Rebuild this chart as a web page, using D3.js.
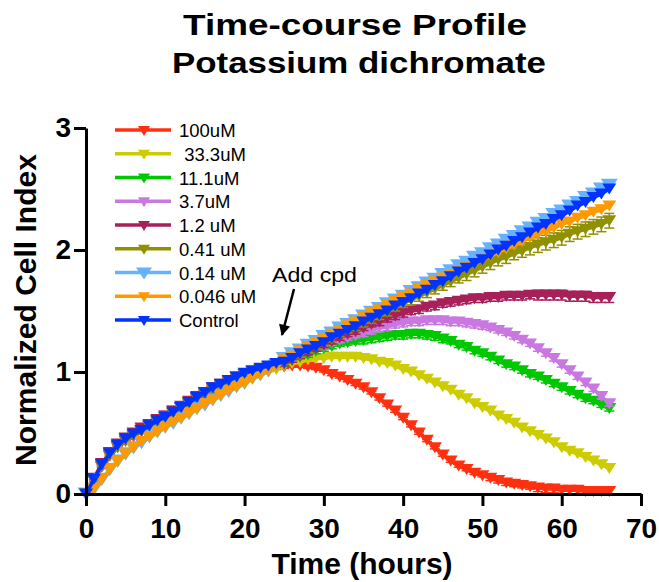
<!DOCTYPE html>
<html>
<head>
<meta charset="utf-8">
<script src="https://cdn.jsdelivr.net/npm/d3@7"></script>
<style>
  body { margin: 0; background: #fff; }
  svg { display: block; font-family: "Liberation Sans", Arial, Helvetica, sans-serif; }
</style>
</head>
<body>
<script>
// Sampling times (hours)
const hours = [0,1,2,3,4,5,6,7,8,9,10,11,12,13,14,15,16,17,18,19,20,21,22,23,24,
  25,26,27,28,29,30,31,32,33,34,35,36,37,38,39,40,41,42,43,44,45,46,47,48,49,50,
  51,52,53,54,55,56,57,58,59,60,61,62,63,64,65,66];

// Normalized cell index per concentration
const ci100uM = [0.00,0.11,0.22,0.31,0.38,0.43,0.47,0.51,0.55,0.58,0.62,0.66,0.70,0.73,0.77,0.81,0.84,0.88,0.91,0.94,0.96,0.98,1.00,1.02,1.03,
  1.04,1.05,1.05,1.04,1.03,1.01,0.98,0.96,0.93,0.90,0.87,0.83,0.78,0.73,0.68,0.62,0.56,0.50,0.44,0.38,
  0.32,0.27,0.23,0.20,0.17,0.15,0.13,0.11,0.09,0.08,0.07,0.06,0.05,0.04,0.04,0.03,0.03,0.03,0.02,0.02,0.02,0.02];
const ci33uM = [0.00,0.03,0.11,0.19,0.26,0.32,0.37,0.42,0.46,0.50,0.54,0.58,0.62,0.65,0.69,0.73,0.77,0.80,0.84,0.87,0.90,0.94,0.97,1.00,1.02,
  1.05,1.07,1.08,1.10,1.11,1.11,1.12,1.12,1.12,1.12,1.11,1.10,1.08,1.07,1.05,1.02,1.00,0.97,0.94,0.91,
  0.88,0.85,0.81,0.78,0.74,0.71,0.68,0.64,0.61,0.58,0.54,0.51,0.48,0.45,0.42,0.38,0.35,0.33,0.30,0.27,0.24,0.21];
const ci11uM = [0.00,0.12,0.23,0.32,0.39,0.44,0.48,0.52,0.56,0.59,0.63,0.67,0.71,0.74,0.78,0.82,0.86,0.89,0.92,0.95,0.98,1.00,1.02,1.04,1.05,
  1.06,1.09,1.12,1.14,1.17,1.19,1.21,1.23,1.24,1.25,1.26,1.27,1.28,1.29,1.30,1.30,1.31,1.31,1.30,1.29,
  1.27,1.25,1.22,1.20,1.17,1.15,1.12,1.09,1.06,1.04,1.01,0.98,0.96,0.93,0.90,0.87,0.84,0.81,0.78,0.76,0.73,0.70];
const ci3_7uM = [0.00,0.12,0.24,0.33,0.40,0.45,0.49,0.53,0.56,0.60,0.64,0.68,0.71,0.75,0.79,0.83,0.86,0.89,0.92,0.95,0.98,1.00,1.02,1.04,1.06,
  1.07,1.10,1.13,1.16,1.19,1.21,1.24,1.26,1.28,1.30,1.32,1.34,1.36,1.37,1.39,1.40,1.41,1.41,1.42,1.42,
  1.42,1.41,1.41,1.40,1.39,1.38,1.36,1.34,1.32,1.29,1.26,1.23,1.19,1.15,1.11,1.06,1.01,0.96,0.91,0.86,0.80,0.74];
const ci1_2uM = [0.00,0.13,0.25,0.34,0.41,0.46,0.50,0.54,0.57,0.61,0.64,0.68,0.72,0.76,0.80,0.83,0.87,0.90,0.93,0.96,0.98,1.00,1.02,1.04,1.06,
  1.07,1.10,1.13,1.16,1.19,1.22,1.25,1.28,1.31,1.33,1.36,1.39,1.41,1.44,1.46,1.48,1.50,1.51,1.53,1.54,
  1.56,1.57,1.58,1.59,1.60,1.60,1.61,1.61,1.62,1.62,1.62,1.63,1.63,1.63,1.63,1.63,1.62,1.62,1.62,1.61,1.61,1.61];
const ci0_41uM = [0.00,0.11,0.23,0.32,0.39,0.44,0.48,0.52,0.55,0.59,0.63,0.66,0.70,0.74,0.78,0.82,0.85,0.89,0.92,0.95,0.98,1.00,1.02,1.04,1.06,
  1.08,1.11,1.14,1.18,1.21,1.24,1.27,1.31,1.34,1.37,1.40,1.43,1.46,1.49,1.53,1.56,1.59,1.62,1.65,1.68,
  1.71,1.74,1.77,1.80,1.83,1.86,1.89,1.92,1.94,1.97,1.99,2.02,2.04,2.06,2.08,2.10,2.13,2.15,2.17,2.19,2.21,2.24];
const ci0_14uM = [0.00,0.04,0.12,0.20,0.27,0.33,0.38,0.42,0.47,0.51,0.55,0.58,0.62,0.66,0.70,0.73,0.77,0.81,0.84,0.88,0.91,0.95,0.98,1.01,1.05,
  1.11,1.15,1.18,1.22,1.25,1.29,1.32,1.36,1.39,1.42,1.46,1.49,1.52,1.56,1.59,1.62,1.66,1.69,1.73,1.76,
  1.80,1.83,1.87,1.90,1.94,1.97,2.01,2.04,2.08,2.11,2.15,2.18,2.22,2.25,2.29,2.32,2.36,2.39,2.43,2.46,2.50,2.53];
const ci0_046uM = [0.00,0.04,0.12,0.20,0.27,0.33,0.38,0.43,0.47,0.51,0.55,0.59,0.62,0.66,0.70,0.74,0.77,0.81,0.85,0.88,0.91,0.95,0.98,1.01,1.04,
  1.10,1.13,1.17,1.20,1.24,1.27,1.31,1.34,1.38,1.41,1.45,1.48,1.51,1.55,1.58,1.61,1.64,1.68,1.71,1.74,
  1.77,1.80,1.83,1.86,1.89,1.92,1.95,1.98,2.01,2.04,2.07,2.10,2.13,2.15,2.18,2.21,2.23,2.26,2.28,2.31,2.33,2.36];
const ciControl = [0.00,0.12,0.24,0.33,0.40,0.45,0.49,0.52,0.56,0.60,0.63,0.67,0.71,0.75,0.79,0.83,0.87,0.90,0.93,0.96,0.99,1.01,1.03,1.05,1.07,
  1.08,1.11,1.15,1.18,1.21,1.24,1.28,1.31,1.34,1.37,1.41,1.44,1.47,1.50,1.54,1.57,1.60,1.64,1.67,1.71,
  1.74,1.78,1.82,1.85,1.89,1.92,1.96,2.00,2.03,2.07,2.10,2.14,2.18,2.21,2.25,2.28,2.32,2.36,2.39,2.43,2.46,2.50];

// Standard deviations for the replicate wells (series where the spread shows)
const sd0_41uM = [0.00,0.01,0.01,0.01,0.01,0.01,0.01,0.01,0.01,0.01,0.01,0.01,0.01,0.01,0.01,0.01,0.01,0.01,0.01,0.01,0.01,0.01,0.01,0.01,0.01,
  0.02,0.02,0.02,0.02,0.02,0.02,0.02,0.02,0.02,0.03,0.03,0.03,0.03,0.03,0.03,0.03,0.04,0.04,0.04,0.04,
  0.04,0.04,0.04,0.05,0.05,0.05,0.05,0.05,0.05,0.05,0.05,0.06,0.06,0.06,0.06,0.06,0.06,0.06,0.06,0.06,0.06,0.06];
const sd1_2uM = [0.00,0.01,0.01,0.01,0.01,0.01,0.01,0.01,0.01,0.01,0.01,0.01,0.01,0.01,0.01,0.01,0.01,0.01,0.01,0.01,0.01,0.01,0.01,0.01,0.01,
  0.02,0.02,0.02,0.02,0.02,0.02,0.02,0.02,0.02,0.02,0.02,0.02,0.03,0.03,0.03,0.03,0.03,0.03,0.03,0.03,
  0.03,0.03,0.03,0.03,0.03,0.03,0.03,0.03,0.03,0.03,0.03,0.03,0.04,0.04,0.04,0.04,0.04,0.04,0.04,0.04,0.04,0.04];
const sd3_7uM = [0.00,0.01,0.01,0.01,0.01,0.01,0.01,0.01,0.01,0.01,0.01,0.01,0.01,0.01,0.01,0.01,0.01,0.01,0.01,0.01,0.01,0.01,0.01,0.01,0.01,
  0.01,0.01,0.02,0.02,0.02,0.02,0.02,0.02,0.02,0.02,0.03,0.03,0.03,0.03,0.03,0.03,0.03,0.03,0.03,0.03,
  0.03,0.03,0.03,0.03,0.03,0.03,0.02,0.02,0.02,0.02,0.02,0.02,0.02,0.02,0.02,0.02,0.02,0.02,0.02,0.02,0.02,0.02];
const sd11uM = [0.00,0.01,0.01,0.01,0.01,0.01,0.01,0.01,0.01,0.01,0.01,0.01,0.01,0.01,0.01,0.01,0.01,0.01,0.01,0.01,0.01,0.01,0.01,0.01,0.01,
  0.01,0.01,0.01,0.02,0.02,0.02,0.02,0.02,0.02,0.02,0.03,0.03,0.03,0.03,0.03,0.03,0.03,0.03,0.03,0.03,
  0.03,0.02,0.02,0.02,0.02,0.02,0.02,0.02,0.02,0.02,0.02,0.02,0.02,0.02,0.02,0.02,0.02,0.02,0.02,0.02,0.02,0.02];
const sd100uM = [0.00,0.01,0.01,0.01,0.01,0.01,0.01,0.01,0.01,0.01,0.01,0.01,0.01,0.01,0.01,0.01,0.01,0.01,0.01,0.01,0.01,0.01,0.01,0.01,0.01,
  0.01,0.01,0.01,0.01,0.01,0.01,0.01,0.01,0.01,0.01,0.01,0.01,0.01,0.01,0.01,0.01,0.01,0.01,0.01,0.01,
  0.01,0.01,0.01,0.01,0.01,0.01,0.02,0.02,0.02,0.02,0.02,0.02,0.03,0.03,0.03,0.03,0.03,0.03,0.03,0.03,0.03,0.03];

const seriesNames = ["100uM", "\u00a033.3uM", "11.1uM", "3.7uM", "1.2 uM", "0.41 uM", "0.14 uM", "0.046 uM", "Control"];
const seriesValues = [ci100uM, ci33uM, ci11uM, ci3_7uM, ci1_2uM, ci0_41uM, ci0_14uM, ci0_046uM, ciControl];
const seriesSD = [sd100uM, null, sd11uM, sd3_7uM, sd1_2uM, sd0_41uM, null, null, null];
const seriesColors = ["#ff3010", "#cccc00", "#00c800", "#c878e0", "#a8205a", "#909000", "#66b2ff", "#ff9900", "#0033ff"];

const xTicks = [0, 10, 20, 30, 40, 50, 60, 70];
const yTicks = [0, 1, 2, 3];

const W = 659, H = 582;
const svg = d3.select("body").append("svg").attr("width", W).attr("height", H);

const x = d3.scaleLinear().domain([0, 70]).range([86, 641]);
const y = d3.scaleLinear().domain([0, 3]).range([494, 128]);

// Title
const title = svg.append("g").attr("font-weight", "bold").attr("font-size", 30).attr("text-anchor", "middle");
title.append("text").attr("x", 355).attr("y", 35)
  .attr("textLength", 344).attr("lengthAdjust", "spacingAndGlyphs").text("Time-course Profile");
title.append("text").attr("x", 359).attr("y", 73)
  .attr("textLength", 374).attr("lengthAdjust", "spacingAndGlyphs").text("Potassium dichromate");

// Series: error bars, line, then down-pointing triangle markers
const line = d3.line().x((d, i) => x(hours[i])).y(d => y(d));
const tri = (w, h) => `M${-w/2},${-h/2}L${w/2},${-h/2}L0,${h/2}Z`;

const plot = svg.append("g");
seriesValues.forEach((vals, k) => {
  const g = plot.append("g");
  const sd = seriesSD[k];
  if (sd) {
    const eb = g.append("g").attr("stroke", seriesColors[k]).attr("stroke-width", 1.5);
    vals.forEach((v, i) => {
      if (!sd[i]) return;
      const cx = x(hours[i]), y0 = y(v - sd[i]), y1 = y(v + sd[i]);
      eb.append("line").attr("x1", cx).attr("x2", cx).attr("y1", y0).attr("y2", y1);
      eb.append("line").attr("x1", cx - 5).attr("x2", cx + 5).attr("y1", y0).attr("y2", y0);
      eb.append("line").attr("x1", cx - 5).attr("x2", cx + 5).attr("y1", y1).attr("y2", y1);
    });
  }
  g.append("path").attr("d", line(vals)).attr("fill", "none")
    .attr("stroke", seriesColors[k]).attr("stroke-width", 3.5);
  const big = k === 6;
  g.selectAll("path.m").data(vals).join("path").attr("class", "m")
    .attr("d", big ? tri(17, 13) : tri(14, 11))
    .attr("transform", (d, i) => `translate(${x(hours[i])},${y(d)})`)
    .attr("fill", seriesColors[k]);
});

// Axes
const xAxis = svg.append("g").attr("transform", `translate(0,${y(0)})`)
  .call(d3.axisBottom(x).tickValues(xTicks).tickSize(12).tickPadding(12).tickSizeOuter(0)
    .tickFormat(d3.format("d")));
const yAxis = svg.append("g").attr("transform", `translate(${x(0)},0)`)
  .call(d3.axisLeft(y).tickValues(yTicks).tickSize(12).tickPadding(3).tickSizeOuter(0)
    .tickFormat(d3.format("d")));
[xAxis, yAxis].forEach(a => {
  a.select(".domain").attr("stroke", "#000").attr("stroke-width", 3);
  a.selectAll(".tick line").attr("stroke", "#000").attr("stroke-width", 3);
  a.selectAll(".tick text").attr("fill", "#000").attr("font-size", 28).attr("font-weight", "bold")
    .attr("font-family", '"Liberation Sans", Arial, sans-serif');
});

// Axis titles
svg.append("text").attr("x", 362).attr("y", 574).attr("text-anchor", "middle")
  .attr("font-size", 30).attr("font-weight", "bold").text("Time (hours)");
svg.append("text").attr("transform", "translate(36,310) rotate(-90)").attr("text-anchor", "middle")
  .attr("font-size", 30).attr("font-weight", "bold").text("Normalized Cell Index");

// Compound addition annotation
svg.append("defs").append("marker").attr("id", "ah")
  .attr("viewBox", "0 0 10 10").attr("refX", 9).attr("refY", 5)
  .attr("markerWidth", 5).attr("markerHeight", 4.5).attr("orient", "auto")
  .append("path").attr("d", "M0,0L10,5L0,10Z").attr("fill", "#000");
svg.append("text").attr("x", 272).attr("y", 282).attr("font-size", 21)
  .attr("textLength", 85).attr("lengthAdjust", "spacingAndGlyphs").text("Add cpd");
svg.append("line").attr("x1", 294).attr("y1", 289).attr("x2", 282).attr("y2", 335)
  .attr("stroke", "#000").attr("stroke-width", 2.5).attr("marker-end", "url(#ah)");

// Legend
const legend = svg.append("g");
seriesNames.forEach((name, k) => {
  const ly = 130 + k * 23.75;
  const g = legend.append("g").attr("transform", `translate(0,${ly})`);
  g.append("line").attr("x1", 115).attr("x2", 171).attr("stroke", seriesColors[k]).attr("stroke-width", 3.5);
  g.append("path").attr("d", k === 6 ? tri(16, 12) : tri(12, 10)).attr("transform", "translate(144,1)")
    .attr("fill", seriesColors[k]);
  g.append("text").attr("x", 179).attr("y", 7).attr("font-size", 18.5).text(name);
});
</script>
</body>
</html>
